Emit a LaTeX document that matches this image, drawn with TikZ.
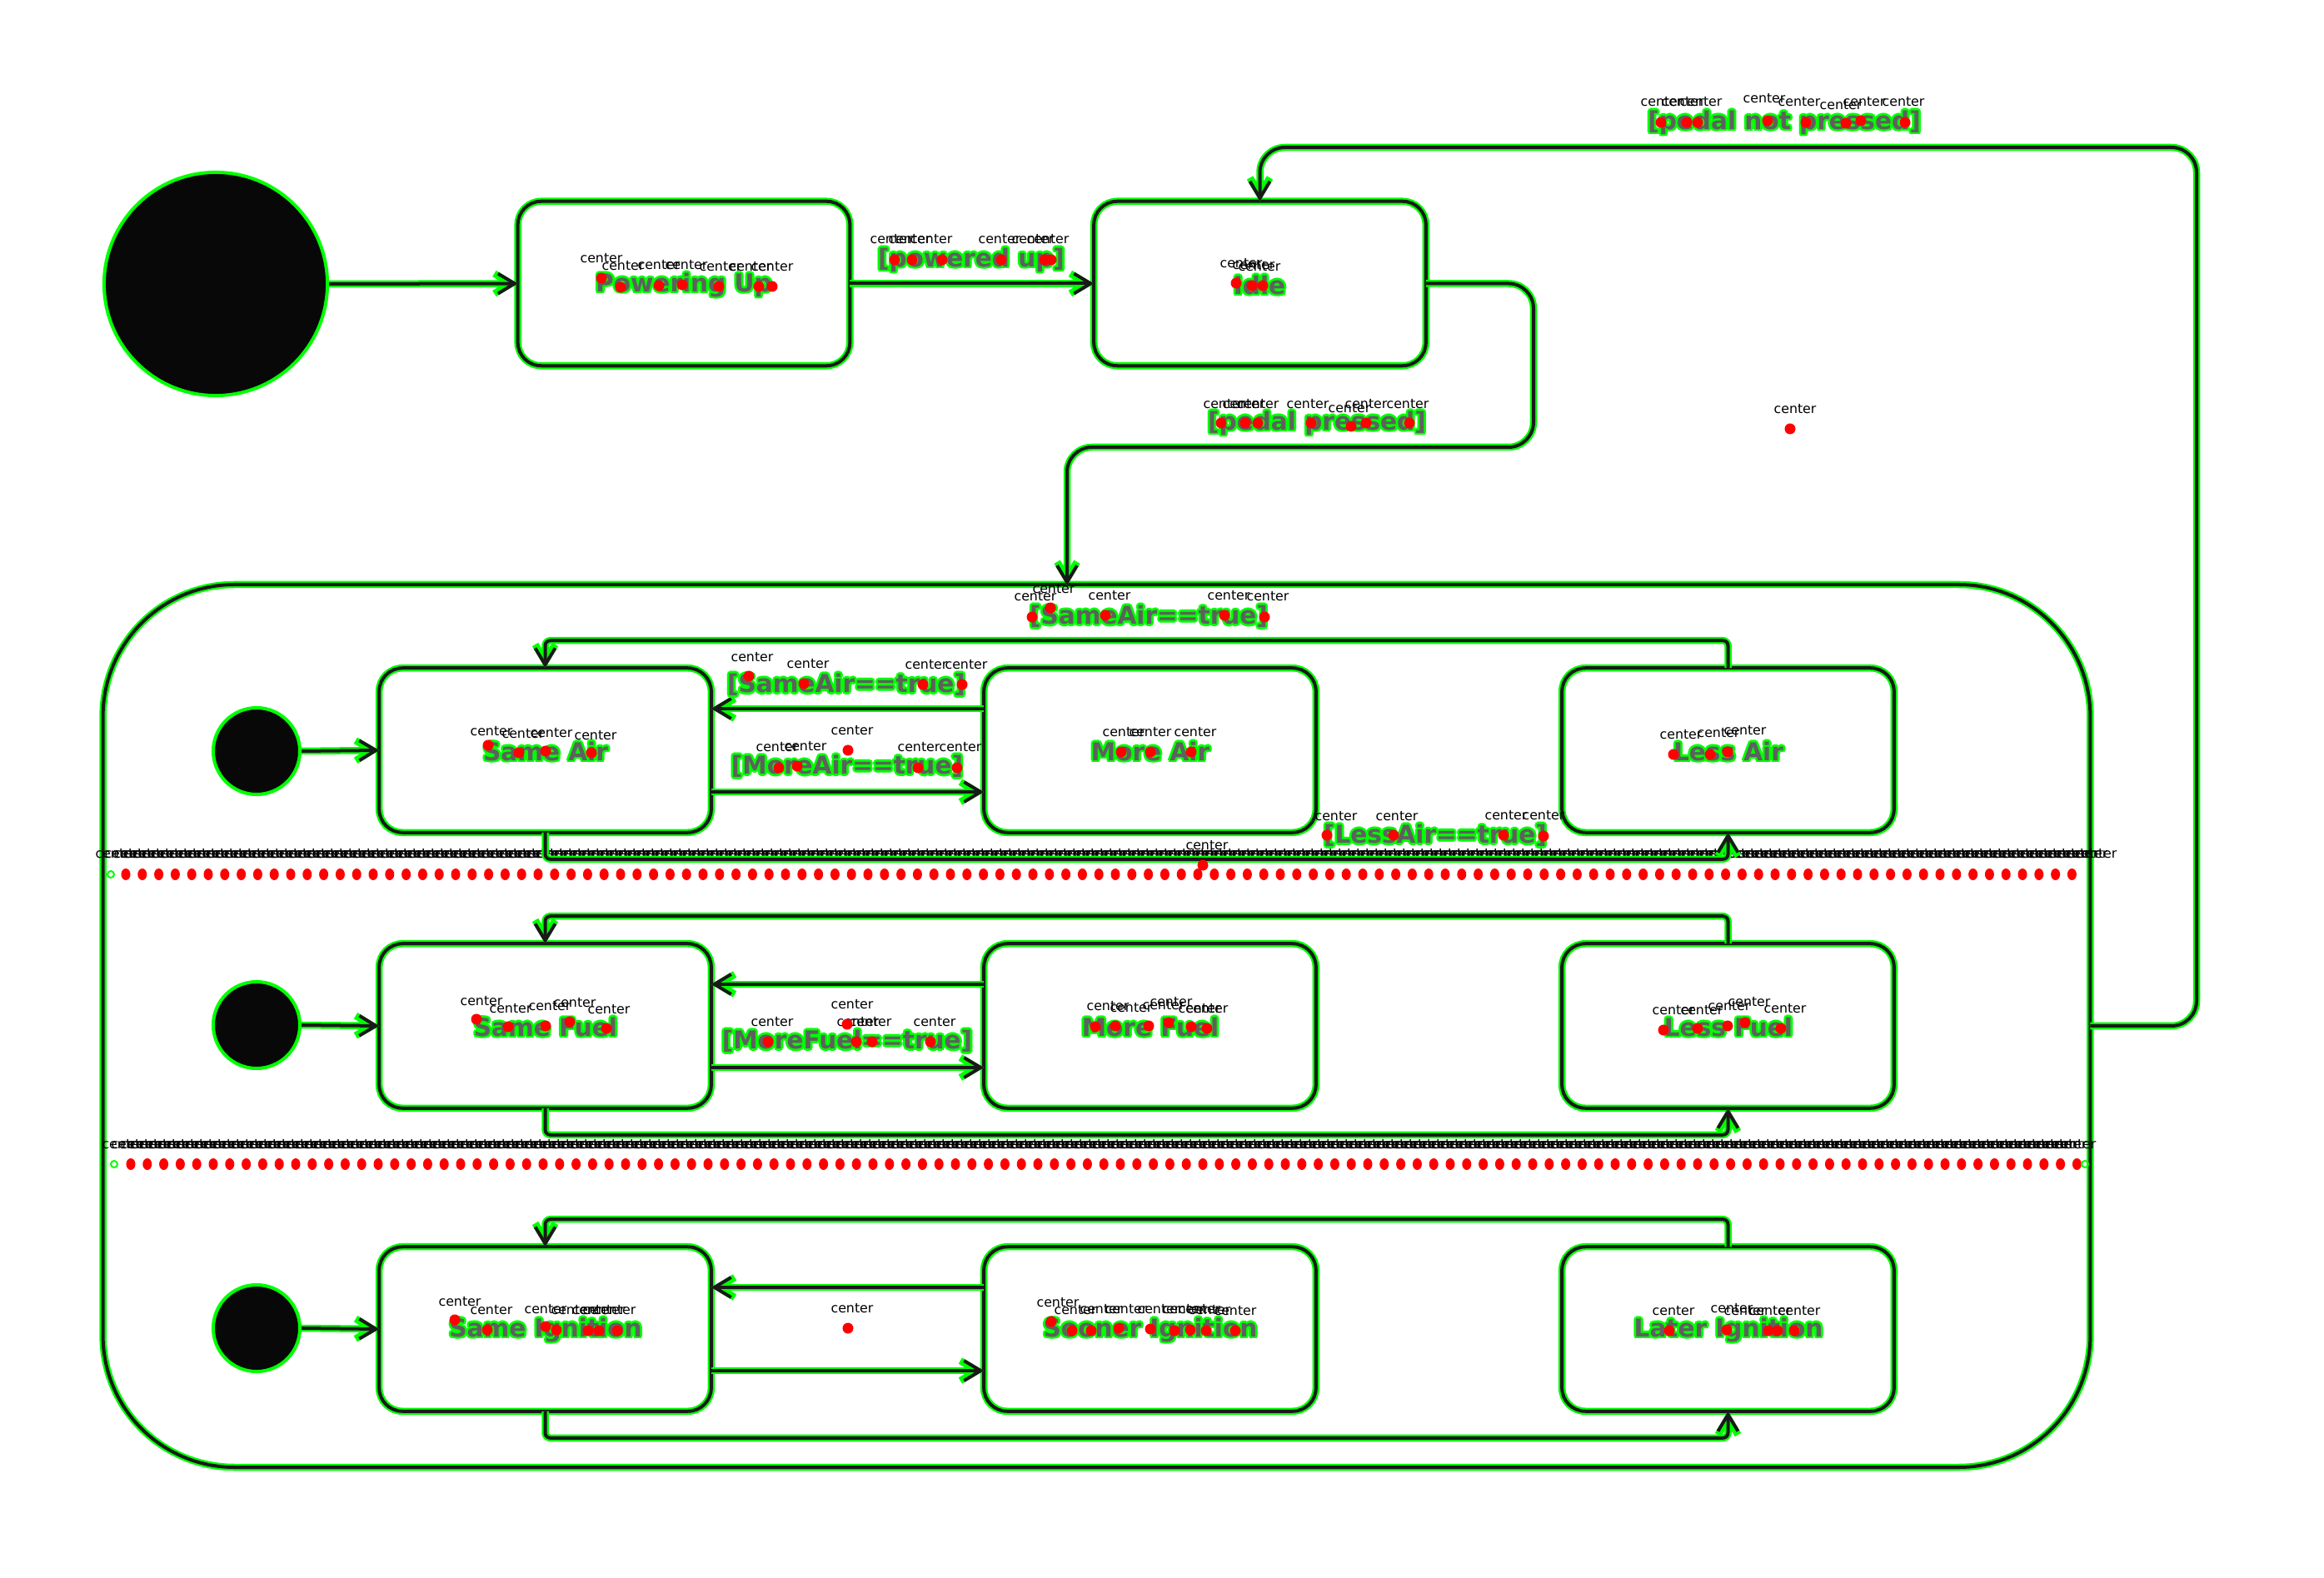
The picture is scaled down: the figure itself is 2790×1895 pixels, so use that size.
\documentclass[tikz,border=0pt]{standalone}
\usepackage{fontspec}
\setmainfont{DejaVu Sans}
\usetikzlibrary{arrows.meta}

\definecolor{halo}{RGB}{0,255,0}
\definecolor{dotred}{RGB}{255,0,0}
\definecolor{ink}{RGB}{95,95,95}

\tikzset{
  halo/.style={draw=halo, line width=0.085cm, line join=round},
  wire/.style={draw=black!90, line width=0.04cm, line join=round},
  arr/.style={-{Straight Barb[length=0.2cm,width=0.24cm]}},
  statebox/.style={rectangle, minimum width=3.97cm, minimum height=1.96cm, inner sep=0pt},
  lbl/.style={font=\bfseries\fontsize{8.4pt}{10pt}\selectfont, inner sep=0pt},
  tag/.style={font=\fontsize{4.5pt}{5pt}\selectfont, inner sep=0pt, text=black},
  initdot/.style={circle, fill=black!97, draw=halo, line width=0.04cm, inner sep=0pt},
}

% a connector: green glow underneath, dark stroke on top
\newcommand\wireto[2]{\draw[halo,#1] #2; \draw[wire,#1] #2;}
% outline of a rounded box around a named node
\newcommand\stframe[2]{%
  \draw[halo,rounded corners=#2] (#1.south west) rectangle (#1.north east);
  \draw[wire,rounded corners=#2] (#1.south west) rectangle (#1.north east);}
% text with a green glow
\newcommand\glowtext[3]{%
  \foreach \hx/\hy [count=\k] in {0.028/0,-0.028/0,0/0.028,0/-0.028,0.02/0.02,-0.02/0.02,0.02/-0.02,-0.02/-0.02}
    {\node[lbl,text=halo,xshift=\hx cm,yshift=\hy cm] (#1h\k) at #2 {#3};}
  \node[lbl,text=ink] (#1) at #2 {#3};}

\begin{document}
\begin{tikzpicture}[x=0.01cm,y=-0.01cm]
\useasboundingbox (0,0) rectangle (2790,1895);
\fill[white] (0,0) rectangle (2790,1895);

% ---------- composite state ----------
\node[rectangle, minimum width=23.83cm, minimum height=10.58cm, inner sep=0pt] (comp) at (1316.5,1232) {};
\stframe{comp}{1.58cm}

% region separators
\foreach \i in {0,...,118} {
  \fill[dotred] (151+19.8*\i,1050) ellipse [x radius=0.055cm, y radius=0.07cm];
  \fill[dotred] (157+19.8*\i,1398) ellipse [x radius=0.055cm, y radius=0.07cm];
}
\draw[halo, line width=0.02cm] (133,1050) circle (0.04cm);
\draw[halo, line width=0.02cm] (137,1398) circle (0.04cm);
\draw[halo, line width=0.02cm] (2503,1398) circle (0.04cm);
\foreach \i in {0,...,216} {\node[tag] (bandA\i) at (140+11*\i,1025) {center};}
\foreach \i in {0,...,213} {\node[tag] (bandB\i) at (148+11*\i,1374) {center};}

% ---------- top level states ----------
\node[initdot, minimum size=2.68cm] (init) at (259,341) {};
\node[statebox] (pu) at (821,340.5) {};
\node[statebox] (idle) at (1512.5,340.5) {};
\stframe{pu}{0.28cm}
\stframe{idle}{0.28cm}

% ---------- region states ----------
\node[initdot, minimum size=1.04cm] (iair) at (308,902) {};
\node[initdot, minimum size=1.04cm] (ifuel) at (308,1231) {};
\node[initdot, minimum size=1.04cm] (iign) at (308,1595) {};

\node[statebox] (sameair) at (654.5,901) {};
\node[statebox] (moreair) at (1380.5,901) {};
\node[statebox] (lessair) at (2074.5,901) {};
\node[statebox] (samefuel) at (654.5,1232) {};
\node[statebox] (morefuel) at (1380.5,1232) {};
\node[statebox] (lessfuel) at (2074.5,1232) {};
\node[statebox] (sameign) at (654.5,1596) {};
\node[statebox] (soonign) at (1380.5,1596) {};
\node[statebox] (laterign) at (2074.5,1596) {};
\foreach \s in {sameair,moreair,lessair,samefuel,morefuel,lessfuel,sameign,soonign,laterign}
  {\stframe{\s}{0.28cm}}

% ---------- transitions ----------
\coordinate (b1) at (1841,537);
\coordinate (pin) at (1281,703);
\coordinate (b2) at (2637,177);

\wireto{arr}{(init.east) -- (pu.west)}
\wireto{arr}{(pu.east) -- (idle.west)}
\wireto{arr,rounded corners=0.3cm}{(idle.east) -| (b1) -| (pin)}
\wireto{arr,rounded corners=0.3cm}{(comp.east) -| (b2) -| (idle.north)}

\foreach \r/\a/\b/\c/\i in {air/sameair/moreair/lessair/iair, fuel/samefuel/morefuel/lessfuel/ifuel, ign/sameign/soonign/laterign/iign} {
  \wireto{arr}{(\i.east) -- (\a.west)}
  \wireto{arr}{([yshift=0.5cm]\b.west) -- ([yshift=0.5cm]\a.east)}
  \wireto{arr}{([yshift=-0.5cm]\a.east) -- ([yshift=-0.5cm]\b.west)}
  \wireto{arr,rounded corners=0.06cm}{(\c.north) -- ++(0,-33) -| (\a.north)}
  \wireto{arr,rounded corners=0.06cm}{(\a.south) -- ++(0,32) -| (\c.south)}
}

% ---------- texts ----------
\glowtext{tpu}{(821,342)}{Powering Up}
\glowtext{tidle}{(1512,342)}{Idle}
\glowtext{tsameair}{(655,902)}{Same Air}
\glowtext{tmoreair}{(1381,902)}{More Air}
\glowtext{tlessair}{(2075,902)}{Less Air}
\glowtext{tsamefuel}{(655,1233)}{Same Fuel}
\glowtext{tmorefuel}{(1381,1233)}{More Fuel}
\glowtext{tlessfuel}{(2075,1233)}{Less Fuel}
\glowtext{tsameign}{(655,1597)}{Same Ignition}
\glowtext{tsoonign}{(1381,1597)}{Sooner Ignition}
\glowtext{tlaterign}{(2075,1597)}{Later Ignition}

\glowtext{gpowered}{(1166,312)}{[powered up]}
\glowtext{gpressed}{(1581,508)}{[pedal pressed]}
\glowtext{gnotpressed}{(2142,147)}{[pedal not pressed]}
\glowtext{gsametop}{(1379,740)}{[SameAir==true]}
\glowtext{gsameair}{(1016,822)}{[SameAir==true]}
\glowtext{gmoreair}{(1017,920)}{[MoreAir==true]}
\glowtext{glessair}{(1723,1003)}{[LessAir==true]}
\glowtext{gmorefuel}{(1017,1250)}{[MoreFuel==true]}

% ---------- anchor markers ----------
\foreach \dx/\dy/\tx/\ty [count=\k] in {
  722/334/722/310, 745/345/748/319, 791/343/791/318, 819/342/824/318, 863/344/865/320, 911/344/901/320, 927/344/927/320,
  1074/312/1070/287, 1095/312/1092/287, 1131/312/1118/287, 1202/312/1200/287, 1254/312/1240/287, 1262/312/1258/287,
  1484/340/1490/316, 1503/343/1505/318, 1516/343/1512/320,
  1466/508/1470/485, 1495/508/1493/485, 1510/508/1510/485, 1574/508/1570/485, 1622/512/1620/490, 1640/508/1640/485, 1692/508/1690/485,
  1994/147/1995/122, 2025/147/2020/122, 2038/147/2042/122, 2122/145/2118/118, 2168/147/2160/122, 2216/148/2210/126, 2234/145/2238/122, 2287/147/2285/122,
  1239/741/1243/716, 1261/730/1265/707, 1327/739/1332/715, 1470/739/1475/715, 1518/741/1522/716,
  586/895/590/878, 623/904/628/881, 655/902/662/880, 710/904/715/883,
  899/812/903/789, 965/821/970/797, 1108/822/1112/798, 1155/822/1160/798,
  935/922/933/897, 957/920/967/896, 1102/922/1103/897, 1149/922/1153/897, 1018/901/1023/877,
  1346/903/1349/879, 1381/903/1381/879, 1430/903/1435/879,
  2009/906/2018/882, 2053/906/2063/880, 2074/903/2095/877,
  1593/1003/1604/980, 1673/1003/1677/980, 1805/1003/1808/979, 1853/1004/1853/979,
  1444/1039/1449/1015,
  572/1224/578/1202, 610/1233/613/1211, 655/1232/660/1208, 684/1227/690/1204, 728/1235/731/1212,
  922/1251/927/1227, 1028/1251/1030/1227, 1047/1251/1045/1227, 1117/1251/1122/1227, 1017/1230/1023/1206,
  1315/1233/1330/1208, 1339/1232/1358/1210, 1379/1232/1397/1207, 1403/1228/1406/1203, 1430/1233/1440/1211, 1449/1235/1449/1211,
  1997/1237/2009/1213, 2038/1235/2043/1213, 2074/1232/2076/1208, 2095/1228/2100/1203, 2138/1235/2143/1211,
  546/1585/552/1563, 585/1597/590/1573, 655/1593/655/1572, 668/1597/687/1573, 706/1598/712/1573, 719/1598/725/1573, 741/1598/738/1573,
  1018/1595/1023/1571,
  1262/1587/1270/1564, 1287/1598/1291/1573, 1310/1598/1322/1572, 1343/1595/1352/1572, 1381/1596/1391/1572, 1410/1598/1421/1572, 1429/1597/1440/1572, 1448/1598/1452/1573, 1483/1598/1483/1574,
  2004/1598/2009/1574, 2073/1597/2079/1571, 2123/1598/2095/1574, 2134/1598/2125/1574, 2154/1598/2160/1574,
  2149/515/2155/491} {
  \fill[dotred] (\dx,\dy) circle (0.065cm);
  \node[tag] (tg\k) at (\tx,\ty) {center};
}
\end{tikzpicture}
\end{document}
